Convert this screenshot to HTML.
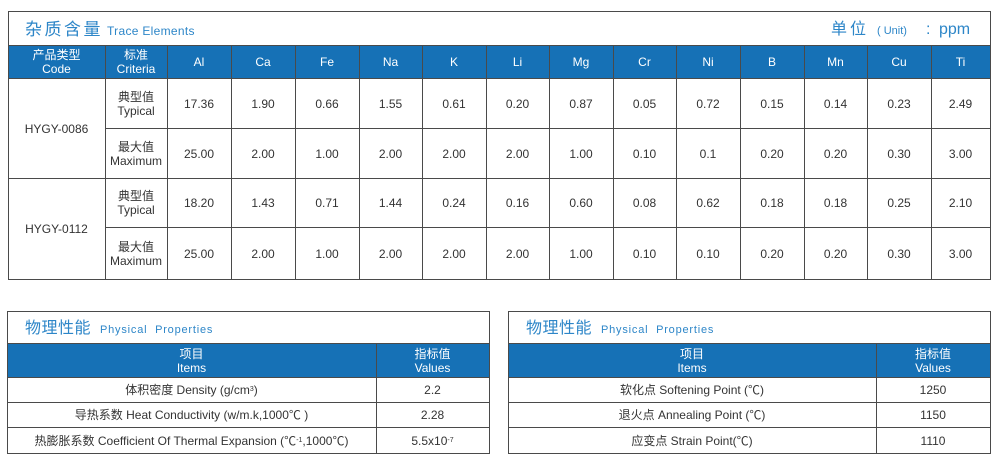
<!DOCTYPE html>
<html><head><meta charset="utf-8">
<style>
html,body{margin:0;padding:0;background:#fff;}
body{width:1000px;height:463px;position:relative;overflow:hidden;font-family:"Liberation Sans","Noto Sans CJK SC",sans-serif;color:#333;}
.h{position:absolute;height:1px;background:#4a4a4a;}
.v{position:absolute;width:1px;background:#4a4a4a;}
.b{position:absolute;background:#1671b6;}
.c{position:absolute;display:flex;align-items:center;justify-content:center;text-align:center;font-size:12px;line-height:14px;}
.w{color:#fff;}
.t{position:absolute;white-space:nowrap;color:#2d86c8;}
sup{font-size:7px;vertical-align:5px;line-height:0;}
</style></head><body>

<!-- ===== TOP TABLE ===== -->
<div class="b" style="left:8px;top:45px;width:983px;height:33px;"></div>
<div class="h" style="left:8px;top:11px;width:983px;"></div>
<div class="h" style="left:8px;top:45px;width:983px;"></div>
<div class="h" style="left:8px;top:78px;width:983px;"></div>
<div class="h" style="left:105px;top:128px;width:886px;"></div>
<div class="h" style="left:8px;top:178px;width:983px;"></div>
<div class="h" style="left:105px;top:227px;width:886px;"></div>
<div class="h" style="left:8px;top:279px;width:983px;"></div>
<div class="v" style="left:8px;top:11px;height:269px;"></div>
<div class="v" style="left:990px;top:11px;height:269px;"></div>
<div class="v" style="left:105px;top:45px;height:234px;"></div>
<div class="v" style="left:167px;top:45px;height:234px;"></div>
<div class="v" style="left:231px;top:45px;height:234px;"></div>
<div class="v" style="left:295px;top:45px;height:234px;"></div>
<div class="v" style="left:359px;top:45px;height:234px;"></div>
<div class="v" style="left:422px;top:45px;height:234px;"></div>
<div class="v" style="left:486px;top:45px;height:234px;"></div>
<div class="v" style="left:549px;top:45px;height:234px;"></div>
<div class="v" style="left:613px;top:45px;height:234px;"></div>
<div class="v" style="left:676px;top:45px;height:234px;"></div>
<div class="v" style="left:740px;top:45px;height:234px;"></div>
<div class="v" style="left:804px;top:45px;height:234px;"></div>
<div class="v" style="left:867px;top:45px;height:234px;"></div>
<div class="v" style="left:931px;top:45px;height:234px;"></div>

<div class="t" style="left:25px;top:18px;font-size:17px;line-height:24px;letter-spacing:2.5px;">杂质含量</div>
<div class="t" style="left:107px;top:23px;font-size:12px;line-height:16px;letter-spacing:0.3px;">Trace Elements</div>
<div class="t" style="left:831px;top:18px;font-size:16px;line-height:24px;letter-spacing:3px;">单位</div>
<div class="t" style="left:877px;top:23px;font-size:11px;line-height:16px;">( Unit)</div>
<div class="t" style="left:926px;top:18px;font-size:16px;line-height:24px;">:</div>
<div class="t" style="left:939px;top:18px;font-size:16px;line-height:24px;">ppm</div>

<!-- header -->
<div class="c w" style="left:8px;top:46px;width:97px;height:32px;">产品类型<br>Code</div>
<div class="c w" style="left:105px;top:46px;width:62px;height:32px;">标准<br>Criteria</div>
<div class="c w" style="left:167px;top:46px;width:64px;height:32px;">Al</div>
<div class="c w" style="left:231px;top:46px;width:64px;height:32px;">Ca</div>
<div class="c w" style="left:295px;top:46px;width:64px;height:32px;">Fe</div>
<div class="c w" style="left:359px;top:46px;width:63px;height:32px;">Na</div>
<div class="c w" style="left:422px;top:46px;width:64px;height:32px;">K</div>
<div class="c w" style="left:486px;top:46px;width:63px;height:32px;">Li</div>
<div class="c w" style="left:549px;top:46px;width:64px;height:32px;">Mg</div>
<div class="c w" style="left:613px;top:46px;width:63px;height:32px;">Cr</div>
<div class="c w" style="left:676px;top:46px;width:64px;height:32px;">Ni</div>
<div class="c w" style="left:740px;top:46px;width:64px;height:32px;">B</div>
<div class="c w" style="left:804px;top:46px;width:63px;height:32px;">Mn</div>
<div class="c w" style="left:867px;top:46px;width:64px;height:32px;">Cu</div>
<div class="c w" style="left:931px;top:46px;width:59px;height:32px;">Ti</div>

<!-- codes -->
<div class="c" style="left:8px;top:79px;width:97px;height:99px;">HYGY-0086</div>
<div class="c" style="left:8px;top:179px;width:97px;height:100px;">HYGY-0112</div>

<!-- criteria -->
<div class="c" style="left:105px;top:79px;width:62px;height:49px;">典型值<br>Typical</div>
<div class="c" style="left:105px;top:129px;width:62px;height:49px;">最大值<br>Maximum</div>
<div class="c" style="left:105px;top:179px;width:62px;height:48px;">典型值<br>Typical</div>
<div class="c" style="left:105px;top:228px;width:62px;height:51px;">最大值<br>Maximum</div>

<!-- row 1 -->
<div class="c" style="left:167px;top:79px;width:64px;height:49px;">17.36</div>
<div class="c" style="left:231px;top:79px;width:64px;height:49px;">1.90</div>
<div class="c" style="left:295px;top:79px;width:64px;height:49px;">0.66</div>
<div class="c" style="left:359px;top:79px;width:63px;height:49px;">1.55</div>
<div class="c" style="left:422px;top:79px;width:64px;height:49px;">0.61</div>
<div class="c" style="left:486px;top:79px;width:63px;height:49px;">0.20</div>
<div class="c" style="left:549px;top:79px;width:64px;height:49px;">0.87</div>
<div class="c" style="left:613px;top:79px;width:63px;height:49px;">0.05</div>
<div class="c" style="left:676px;top:79px;width:64px;height:49px;">0.72</div>
<div class="c" style="left:740px;top:79px;width:64px;height:49px;">0.15</div>
<div class="c" style="left:804px;top:79px;width:63px;height:49px;">0.14</div>
<div class="c" style="left:867px;top:79px;width:64px;height:49px;">0.23</div>
<div class="c" style="left:931px;top:79px;width:59px;height:49px;">2.49</div>

<!-- row 2 -->
<div class="c" style="left:167px;top:129px;width:64px;height:49px;">25.00</div>
<div class="c" style="left:231px;top:129px;width:64px;height:49px;">2.00</div>
<div class="c" style="left:295px;top:129px;width:64px;height:49px;">1.00</div>
<div class="c" style="left:359px;top:129px;width:63px;height:49px;">2.00</div>
<div class="c" style="left:422px;top:129px;width:64px;height:49px;">2.00</div>
<div class="c" style="left:486px;top:129px;width:63px;height:49px;">2.00</div>
<div class="c" style="left:549px;top:129px;width:64px;height:49px;">1.00</div>
<div class="c" style="left:613px;top:129px;width:63px;height:49px;">0.10</div>
<div class="c" style="left:676px;top:129px;width:64px;height:49px;">0.1</div>
<div class="c" style="left:740px;top:129px;width:64px;height:49px;">0.20</div>
<div class="c" style="left:804px;top:129px;width:63px;height:49px;">0.20</div>
<div class="c" style="left:867px;top:129px;width:64px;height:49px;">0.30</div>
<div class="c" style="left:931px;top:129px;width:59px;height:49px;">3.00</div>

<!-- row 3 -->
<div class="c" style="left:167px;top:179px;width:64px;height:48px;">18.20</div>
<div class="c" style="left:231px;top:179px;width:64px;height:48px;">1.43</div>
<div class="c" style="left:295px;top:179px;width:64px;height:48px;">0.71</div>
<div class="c" style="left:359px;top:179px;width:63px;height:48px;">1.44</div>
<div class="c" style="left:422px;top:179px;width:64px;height:48px;">0.24</div>
<div class="c" style="left:486px;top:179px;width:63px;height:48px;">0.16</div>
<div class="c" style="left:549px;top:179px;width:64px;height:48px;">0.60</div>
<div class="c" style="left:613px;top:179px;width:63px;height:48px;">0.08</div>
<div class="c" style="left:676px;top:179px;width:64px;height:48px;">0.62</div>
<div class="c" style="left:740px;top:179px;width:64px;height:48px;">0.18</div>
<div class="c" style="left:804px;top:179px;width:63px;height:48px;">0.18</div>
<div class="c" style="left:867px;top:179px;width:64px;height:48px;">0.25</div>
<div class="c" style="left:931px;top:179px;width:59px;height:48px;">2.10</div>

<!-- row 4 -->
<div class="c" style="left:167px;top:228px;width:64px;height:51px;">25.00</div>
<div class="c" style="left:231px;top:228px;width:64px;height:51px;">2.00</div>
<div class="c" style="left:295px;top:228px;width:64px;height:51px;">1.00</div>
<div class="c" style="left:359px;top:228px;width:63px;height:51px;">2.00</div>
<div class="c" style="left:422px;top:228px;width:64px;height:51px;">2.00</div>
<div class="c" style="left:486px;top:228px;width:63px;height:51px;">2.00</div>
<div class="c" style="left:549px;top:228px;width:64px;height:51px;">1.00</div>
<div class="c" style="left:613px;top:228px;width:63px;height:51px;">0.10</div>
<div class="c" style="left:676px;top:228px;width:64px;height:51px;">0.10</div>
<div class="c" style="left:740px;top:228px;width:64px;height:51px;">0.20</div>
<div class="c" style="left:804px;top:228px;width:63px;height:51px;">0.20</div>
<div class="c" style="left:867px;top:228px;width:64px;height:51px;">0.30</div>
<div class="c" style="left:931px;top:228px;width:59px;height:51px;">3.00</div>

<!-- ===== BOTTOM LEFT TABLE ===== -->
<div class="b" style="left:7px;top:343px;width:483px;height:34px;"></div>
<div class="h" style="left:7px;top:311px;width:483px;"></div>
<div class="h" style="left:7px;top:343px;width:483px;"></div>
<div class="h" style="left:7px;top:377px;width:483px;"></div>
<div class="h" style="left:7px;top:402px;width:483px;"></div>
<div class="h" style="left:7px;top:427px;width:483px;"></div>
<div class="h" style="left:7px;top:453px;width:483px;"></div>
<div class="v" style="left:7px;top:311px;height:143px;"></div>
<div class="v" style="left:489px;top:311px;height:143px;"></div>
<div class="v" style="left:376px;top:343px;height:110px;"></div>

<div class="t" style="left:25px;top:317px;font-size:16px;line-height:24px;letter-spacing:0.5px;">物理性能</div>
<div class="t" style="left:100px;top:322px;font-size:11px;line-height:16px;letter-spacing:0.8px;">Physical&nbsp; Properties</div>

<div class="c w" style="left:7px;top:344px;width:369px;height:33px;">项目<br>Items</div>
<div class="c w" style="left:376px;top:344px;width:113px;height:33px;">指标值<br>Values</div>
<div class="c" style="left:7px;top:378px;width:369px;height:24px;">体积密度 Density (g/cm<sup>3</sup>)</div>
<div class="c" style="left:376px;top:378px;width:113px;height:24px;">2.2</div>
<div class="c" style="left:7px;top:403px;width:369px;height:24px;">导热系数 Heat Conductivity (w/m.k,1000℃ )</div>
<div class="c" style="left:376px;top:403px;width:113px;height:24px;">2.28</div>
<div class="c" style="left:7px;top:428px;width:369px;height:25px;">热膨胀系数 Coefficient Of Thermal Expansion (℃<sup>-1</sup>,1000℃)</div>
<div class="c" style="left:376px;top:428px;width:113px;height:25px;">5.5x10<sup>-7</sup></div>

<!-- ===== BOTTOM RIGHT TABLE ===== -->
<div class="b" style="left:508px;top:343px;width:483px;height:34px;"></div>
<div class="h" style="left:508px;top:311px;width:483px;"></div>
<div class="h" style="left:508px;top:343px;width:483px;"></div>
<div class="h" style="left:508px;top:377px;width:483px;"></div>
<div class="h" style="left:508px;top:402px;width:483px;"></div>
<div class="h" style="left:508px;top:427px;width:483px;"></div>
<div class="h" style="left:508px;top:453px;width:483px;"></div>
<div class="v" style="left:508px;top:311px;height:143px;"></div>
<div class="v" style="left:990px;top:311px;height:143px;"></div>
<div class="v" style="left:876px;top:343px;height:110px;"></div>

<div class="t" style="left:526px;top:317px;font-size:16px;line-height:24px;letter-spacing:0.5px;">物理性能</div>
<div class="t" style="left:601px;top:322px;font-size:11px;line-height:16px;letter-spacing:0.8px;">Physical&nbsp; Properties</div>

<div class="c w" style="left:508px;top:344px;width:368px;height:33px;">项目<br>Items</div>
<div class="c w" style="left:876px;top:344px;width:114px;height:33px;">指标值<br>Values</div>
<div class="c" style="left:508px;top:378px;width:368px;height:24px;">软化点 Softening Point (℃)</div>
<div class="c" style="left:876px;top:378px;width:114px;height:24px;">1250</div>
<div class="c" style="left:508px;top:403px;width:368px;height:24px;">退火点 Annealing Point (℃)</div>
<div class="c" style="left:876px;top:403px;width:114px;height:24px;">1150</div>
<div class="c" style="left:508px;top:428px;width:368px;height:25px;">应变点 Strain Point(℃)</div>
<div class="c" style="left:876px;top:428px;width:114px;height:25px;">1110</div>

</body></html>
